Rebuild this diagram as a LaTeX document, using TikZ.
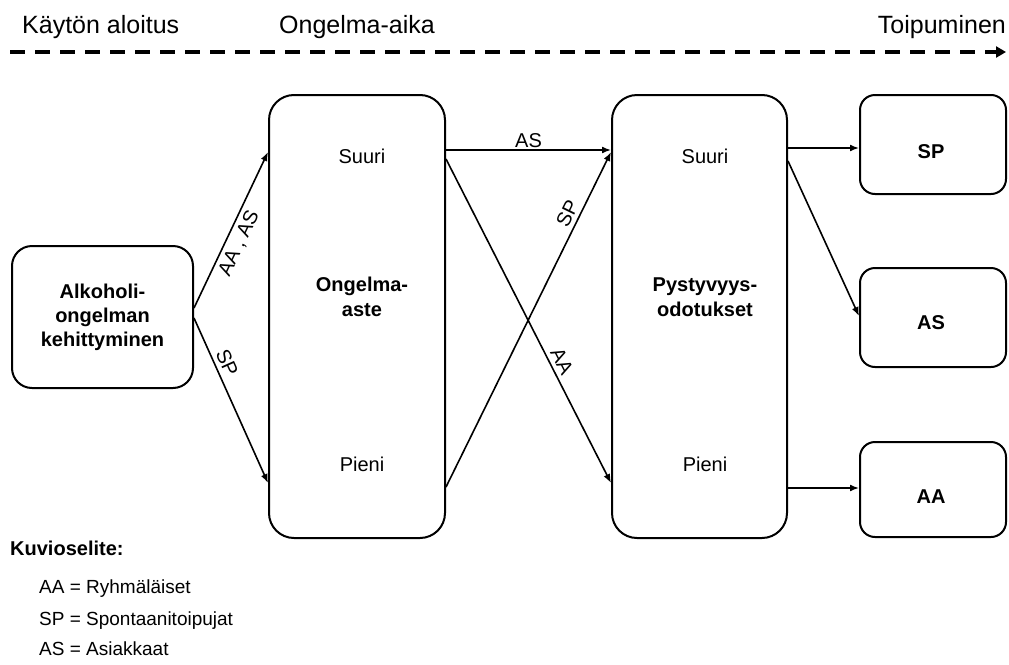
\documentclass[tikz,border=0pt]{standalone}
\usepackage{fontspec}
\setmainfont{Liberation Sans}
\usetikzlibrary{arrows.meta,calc}
\tikzset{
  box/.style={draw=black, line width=2pt, rounded corners=#1, inner sep=0pt, align=center, font=\fontsize{20}{24}\selectfont\bfseries},
  box/.default=20pt,
  conn/.style={line width=1.6pt, -{Latex[length=9pt,width=7pt]}},
  lbl/.style={font=\fontsize{20}{24}\selectfont, inner sep=2pt},
  slbl/.style={font=\fontsize{20}{24}\selectfont, inner sep=4pt, sloped},
  toptxt/.style={font=\fontsize{25}{29}\selectfont, inner sep=0pt},
  legtxt/.style={font=\fontsize{19}{22}\selectfont, inner sep=0pt, anchor=base west},
}
\begin{document}
\begin{tikzpicture}[x=1pt,y=-1pt]
\useasboundingbox (0,0) rectangle (1009,664);
% top timeline
\node[toptxt, anchor=base west] (t1) at (22,33) {Käytön aloitus};
\node[toptxt, anchor=base west] (t2) at (279,33) {Ongelma-aika};
\node[toptxt, anchor=base east] (t3) at (1006,33) {Toipuminen};
\coordinate (d0) at (10,52);
\coordinate (d1) at (1006,52);
\draw[line width=4pt, dash pattern=on 15pt off 10pt, -{Triangle[length=10pt,width=11pt]}] (d0) -- (d1);

% boxes
\node[box, minimum width=181pt, minimum height=142pt] (a) at (102.5,317) {Alkoholi-\\ongelman\\kehittyminen};
\node[box=25pt, minimum width=176pt, minimum height=443pt] (b2) at (357,316.5) {};
\node[box=25pt, minimum width=175pt, minimum height=443pt] (b3) at (699.5,316.5) {};
\node[box=15pt, minimum width=146pt, minimum height=99pt] (r1) at (933,144.5) {};
\node[box=15pt, minimum width=146pt, minimum height=99pt] (r2) at (933,317.5) {};
\node[box=15pt, minimum width=146pt, minimum height=95pt] (r3) at (933,489.5) {};

% texts inside boxes
\node[lbl, anchor=base] (s2) at (362,163) {Suuri};
\node[lbl, anchor=base] (p2) at (362,471) {Pieni};
\node[lbl, align=center, font=\fontsize{20}{25}\selectfont\bfseries] (o2) at (362,297) {Ongelma-\\aste};
\node[lbl, anchor=base] (s3) at (705,163) {Suuri};
\node[lbl, anchor=base] (p3) at (705,471) {Pieni};
\node[lbl, align=center, font=\fontsize{20}{25}\selectfont\bfseries] (o3) at (705,297) {Pystyvyys-\\odotukset};
\node[lbl, font=\fontsize{20}{24}\selectfont\bfseries] (x1) at (931,152) {SP};
\node[lbl, font=\fontsize{20}{24}\selectfont\bfseries] (x2) at (931,323) {AS};
\node[lbl, font=\fontsize{20}{24}\selectfont\bfseries] (x3) at (931,497) {AA};

% connectors
\draw[conn] ([yshift=9pt]a.east) -- node[slbl, below, pos=0.45] {AA , AS} ([yshift=164.5pt]b2.west);
\draw[conn] ([yshift=-1pt]a.east) -- node[slbl, above, pos=0.3] {SP} ([yshift=-166.5pt]b2.west);
\draw[conn] ([yshift=166.5pt]b2.east) -- node[lbl, above] {AS} ([yshift=166.5pt]b3.west);
\draw[conn] ([yshift=157.5pt]b2.east) -- node[slbl, above, pos=0.64] {AA} ([yshift=-166.5pt]b3.west);
\draw[conn] ([yshift=-170.5pt]b2.east) -- node[slbl, above, pos=0.8] {SP} ([yshift=164.5pt]b3.west);
\draw[conn] ([yshift=168.5pt]b3.east) -- ([yshift=-3.5pt]r1.west);
\draw[conn] ([yshift=155.5pt]b3.east) -- ([yshift=1.5pt]r2.west);
\draw[conn] ([yshift=-171.5pt]b3.east) -- ([yshift=1.5pt]r3.west);

% legend
\node[legtxt, font=\fontsize{20}{24}\selectfont\bfseries] (k0) at (10,555) {Kuvioselite:};
\node[legtxt] (k1) at (39,593) {AA = Ryhmäläiset};
\node[legtxt] (k2) at (39,625) {SP = Spontaanitoipujat};
\node[legtxt] (k3) at (39,655) {AS = Asiakkaat};
\end{tikzpicture}
\end{document}
